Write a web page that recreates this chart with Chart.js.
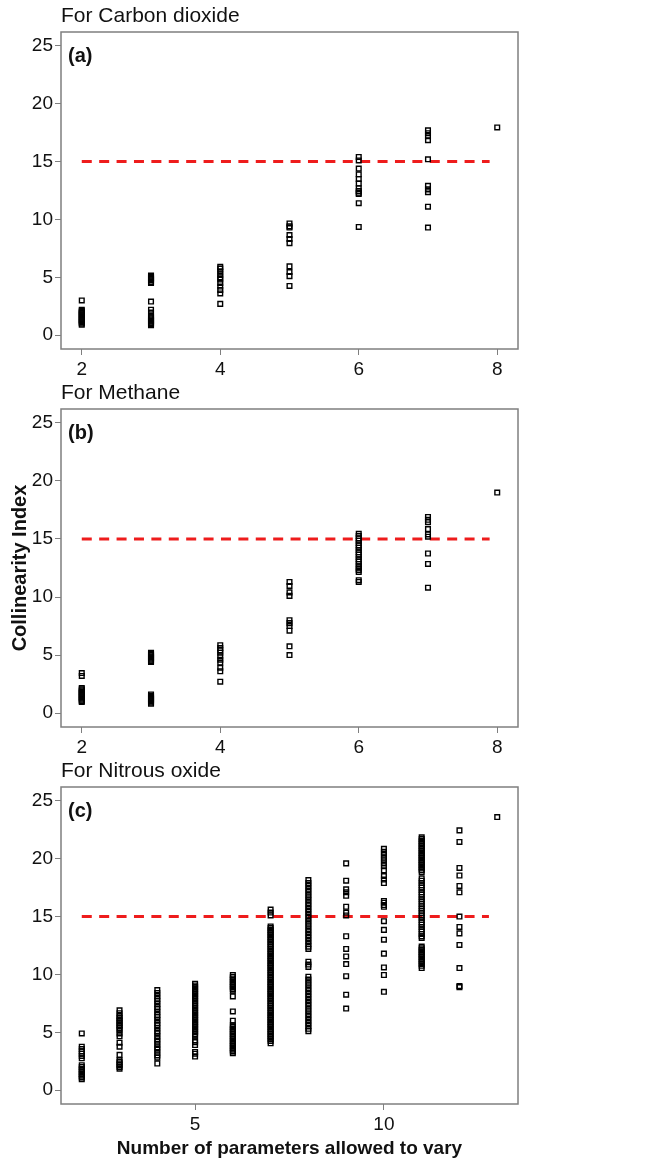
<!DOCTYPE html>
<html>
<head>
<meta charset="utf-8">
<title>Collinearity Index</title>
<script src="https://cdn.jsdelivr.net/npm/chart.js@4.4.1/dist/chart.umd.min.js"></script>
<style>
  body { margin: 0; background: #fff; }
  #wrap { position: relative; width: 657px; height: 1162px; }
  canvas { position: absolute; left: 0; }
</style>
</head>
<body>
<div id="wrap">
  <canvas id="chart-co2" width="657" height="377" style="top:0px"></canvas>
  <canvas id="chart-ch4" width="657" height="378" style="top:377px"></canvas>
  <canvas id="chart-n2o" width="657" height="407" style="top:755px"></canvas>
</div>
<script>
// Datos: una lista de valores por cada numero de parametros
const co2Params = [2, 3, 4, 5, 6, 7, 8];
const co2Index = [
  [3.0, 2.2, 2.1, 2.0, 1.9, 1.8, 1.7, 1.6, 1.5, 1.4, 1.3, 1.2, 1.1, 1.0, 0.9],
  [5.15, 5.05, 4.95, 4.85, 4.75, 4.6, 4.5, 2.9, 2.2, 1.95, 1.65, 1.55, 1.45, 1.35, 1.25, 1.15, 1.05, 0.95, 0.85],
  [5.9, 5.75, 5.5, 5.25, 5.0, 4.8, 4.5, 4.2, 3.9, 3.6, 2.7],
  [9.65, 9.4, 9.3, 8.65, 8.3, 7.95, 5.95, 5.45, 5.1, 4.25],
  [15.4, 15.1, 14.4, 13.9, 13.5, 13.1, 12.7, 12.45, 12.3, 12.2, 11.4, 9.35],
  [17.7, 17.45, 17.2, 16.85, 15.2, 12.9, 12.6, 12.35, 11.1, 9.3],
  [17.95]
];

const ch4Params = [2, 3, 4, 5, 6, 7, 8];
const ch4Index = [
  [3.45, 3.2, 2.15, 2.05, 1.95, 1.85, 1.75, 1.65, 1.55, 1.45, 1.35, 1.25, 1.15, 1.05, 0.95],
  [5.2, 5.1, 5.0, 4.9, 4.8, 4.7, 4.6, 4.5, 4.4, 1.6, 1.5, 1.4, 1.3, 1.2, 1.1, 1.0, 0.9, 0.8],
  [5.85, 5.6, 5.4, 5.2, 4.9, 4.6, 4.35, 3.9, 3.6, 2.7],
  [11.3, 10.95, 10.4, 10.1, 8.0, 7.75, 7.5, 7.1, 5.75, 5.0],
  [15.45, 15.25, 15.05, 14.85, 14.65, 14.45, 14.25, 14.05, 13.85, 13.65, 13.45, 13.25, 13.05, 12.85, 12.65, 12.45, 12.3, 12.15, 11.45, 11.3],
  [16.9, 16.65, 16.45, 15.85, 15.4, 15.2, 13.75, 12.85, 10.8],
  [19.0]
];

const n2oParams = [2, 3, 4, 5, 6, 7, 8, 9, 10, 11, 12, 13];
const n2oIndex = [
  [4.9, 3.75, 3.55, 3.35, 3.15, 2.95, 2.75, 2.15, 2.0, 1.85, 1.7, 1.55, 1.4, 1.25, 1.1, 0.95],
  [6.9, 6.65, 6.4, 6.25, 6.1, 5.95, 5.8, 5.65, 5.5, 5.35, 5.2, 4.9, 4.65, 4.1, 3.75, 3.05, 2.6, 2.45, 2.3, 2.15, 2.0, 1.85],
  [8.65, 8.4, 8.15, 7.9, 7.7, 7.45, 7.2, 7.0, 6.75, 6.5, 6.3, 6.05, 5.8, 5.6, 5.35, 5.1, 4.9, 4.65, 4.4, 4.2, 3.95, 3.7, 3.5, 3.25, 3.0, 2.8, 2.3],
  [9.2, 9.05, 8.9, 8.75, 8.6, 8.45, 8.3, 8.15, 8.0, 7.85, 7.7, 7.55, 7.4, 7.25, 7.1, 6.95, 6.8, 6.65, 6.5, 6.35, 6.2, 6.05, 5.9, 5.75, 5.6, 5.45, 5.3, 5.15, 5.0, 4.85, 4.7, 4.3, 4.15, 3.9, 3.3, 3.15, 2.9],
  [9.95, 9.8, 9.65, 9.5, 9.35, 9.2, 9.05, 8.9, 8.75, 8.6, 8.1, 6.8, 6.0, 5.6, 5.45, 5.3, 5.15, 5.0, 4.85, 4.7, 4.55, 4.4, 4.25, 4.1, 3.95, 3.8, 3.65, 3.5, 3.35, 3.2],
  [15.6, 15.35, 15.1, 14.15, 14.0, 13.85, 13.7, 13.55, 13.4, 13.25, 13.1, 12.95, 12.8, 12.65, 12.5, 12.35, 12.2, 12.05, 11.9, 11.75, 11.6, 11.45, 11.3, 11.15, 11.0, 10.85, 10.7, 10.55, 10.4, 10.25, 10.1, 9.95, 9.8, 9.65, 9.5, 9.35, 9.2, 9.05, 8.9, 8.75, 8.6, 8.45, 8.3, 8.15, 8.0, 7.85, 7.7, 7.55, 7.4, 7.25, 7.1, 6.95, 6.8, 6.65, 6.5, 6.35, 6.2, 6.05, 5.9, 5.75, 5.6, 5.45, 5.3, 5.15, 5.0, 4.85, 4.7, 4.55, 4.4, 4.25, 4.05],
  [18.15, 17.9, 17.65, 17.4, 17.15, 16.9, 16.65, 16.4, 16.15, 15.9, 15.65, 15.4, 15.15, 14.9, 14.65, 14.4, 14.15, 13.9, 13.65, 13.4, 13.15, 12.9, 12.65, 12.4, 12.2, 11.1, 10.85, 10.65, 9.8, 9.55, 9.3, 9.05, 8.8, 8.55, 8.3, 8.05, 7.8, 7.55, 7.3, 7.05, 6.8, 6.55, 6.3, 6.05, 5.8, 5.55, 5.3, 5.1],
  [19.6, 18.1, 17.35, 17.1, 16.8, 15.85, 15.35, 15.1, 13.3, 12.2, 11.55, 10.9, 9.85, 8.25, 7.05],
  [20.85, 20.6, 20.35, 20.1, 19.85, 19.6, 19.35, 19.0, 18.5, 18.2, 17.9, 16.35, 16.2, 16.0, 15.85, 14.6, 13.85, 13.0, 11.8, 10.6, 9.95, 8.5],
  [21.85, 21.7, 21.55, 21.4, 21.25, 21.1, 20.95, 20.8, 20.65, 20.5, 20.35, 20.2, 20.05, 19.9, 19.75, 19.6, 19.45, 19.3, 19.15, 19.0, 18.85, 18.3, 18.1, 17.9, 17.7, 17.5, 17.3, 17.1, 16.9, 16.7, 16.5, 16.3, 16.1, 15.9, 15.7, 15.5, 15.3, 15.1, 14.9, 14.7, 14.5, 14.3, 14.1, 13.9, 13.7, 13.5, 13.3, 13.15, 12.4, 12.25, 12.1, 11.95, 11.8, 11.65, 11.5, 11.35, 11.2, 11.05, 10.9, 10.75, 10.55],
  [22.45, 21.45, 19.2, 18.55, 17.65, 17.1, 15.0, 14.1, 13.55, 12.55, 10.55, 9.0, 8.9],
  [23.6]
];

// Umbral (linea roja discontinua)
const thresholdValue = 15;
const thresholdStart = 2;
const thresholdEnd = [7.89, 7.89, 12.78];

// Ticks
const yTicks = [0, 5, 10, 15, 20, 25];
const xTicksShort = [2, 4, 6, 8];
const xTicksLong = [5, 10];

const fontFamily = '"Liberation Sans", Arial, Helvetica, sans-serif';

// Marco del grafico y etiqueta del panel
const framePlugin = {
  id: 'frame',
  afterDraw(chart, args, opts) {
    const { ctx, chartArea: a } = chart;
    ctx.save();
    ctx.strokeStyle = '#7f7f7f';
    ctx.lineWidth = 1.5;
    ctx.strokeRect(a.left, a.top, a.right - a.left, a.bottom - a.top);
    ctx.font = 'bold 20px ' + fontFamily;
    ctx.fillStyle = '#111';
    ctx.textBaseline = 'middle';
    ctx.fillText(opts.label, a.left + 7, a.top + 24);
    ctx.restore();
  }
};

function crearGrafico(id, titulo, etiqueta, params, valores, xMin, xMax, xTicks, finUmbral, extra) {
  const puntos = params.flatMap((p, i) => valores[i].map(v => ({ x: p, y: v })));

  return new Chart(document.getElementById(id), {
    type: 'scatter',
    data: {
      datasets: [{
        data: puntos,
        pointStyle: 'rect',
        pointRadius: 3.3,
        borderWidth: 1.4,
        borderColor: '#000',
        backgroundColor: 'rgba(0,0,0,0)'
      }, {
        type: 'line',
        data: [{ x: thresholdStart, y: thresholdValue }, { x: finUmbral, y: thresholdValue }],
        borderColor: '#ee1c1c',
        borderWidth: 3,
        borderDash: [10, 7.4],
        pointRadius: 0,
        fill: false
      }]
    },
    options: {
      responsive: false,
      animation: false,
      events: [],
      layout: { padding: { left: 0, right: 139, top: 0, bottom: 0 } },
      plugins: {
        legend: { display: false },
        tooltip: { enabled: false },
        title: {
          display: true,
          text: titulo,
          align: 'start',
          fullSize: false,
          color: '#111',
          font: { family: fontFamily, size: 21, weight: 'normal', lineHeight: 1.2 },
          padding: { top: 4, bottom: 2.8 }
        },
        frame: { label: etiqueta }
      },
      scales: {
        x: {
          type: 'linear',
          min: xMin,
          max: xMax,
          afterBuildTicks: s => { s.ticks = xTicks.map(v => ({ value: v })); },
          afterFit: s => { s.height = extra.xHeight; },
          border: { display: false },
          grid: { drawOnChartArea: false, drawTicks: true, tickLength: 6, color: '#7f7f7f' },
          ticks: { color: '#111', padding: 3, maxRotation: 0, font: { family: fontFamily, size: 19 } },
          title: {
            display: !!extra.xTitle,
            text: extra.xTitle || '',
            color: '#111',
            font: { family: fontFamily, size: 19, weight: 'bold', lineHeight: 1.2 },
            padding: { top: 0, bottom: 2 }
          }
        },
        y: {
          min: -1.2,
          max: 26.2,
          afterBuildTicks: s => { s.ticks = yTicks.map(v => ({ value: v })); },
          afterFit: s => { s.width = 61; },
          border: { display: false },
          grid: { drawOnChartArea: false, drawTicks: true, tickLength: 6, color: '#7f7f7f' },
          ticks: { color: '#111', padding: 2, font: { family: fontFamily, size: 19 } },
          title: {
            display: !!extra.yTitle,
            text: extra.yTitle || '',
            color: '#111',
            font: { family: fontFamily, size: 20, weight: 'bold', lineHeight: 1.2 },
            padding: { top: 8, bottom: 0 }
          }
        }
      }
    },
    plugins: [framePlugin]
  });
}

crearGrafico('chart-co2', 'For Carbon dioxide', '(a)', co2Params, co2Index, 1.70, 8.30, xTicksShort, thresholdEnd[0], { xHeight: 28 });
crearGrafico('chart-ch4', 'For Methane', '(b)', ch4Params, ch4Index, 1.70, 8.30, xTicksShort, thresholdEnd[1], { xHeight: 28, yTitle: 'Collinearity Index' });
crearGrafico('chart-n2o', 'For Nitrous oxide', '(c)', n2oParams, n2oIndex, 1.45, 13.55, xTicksLong, thresholdEnd[2], { xHeight: 58, xTitle: 'Number of parameters allowed to vary' });
</script>
</body>
</html>
